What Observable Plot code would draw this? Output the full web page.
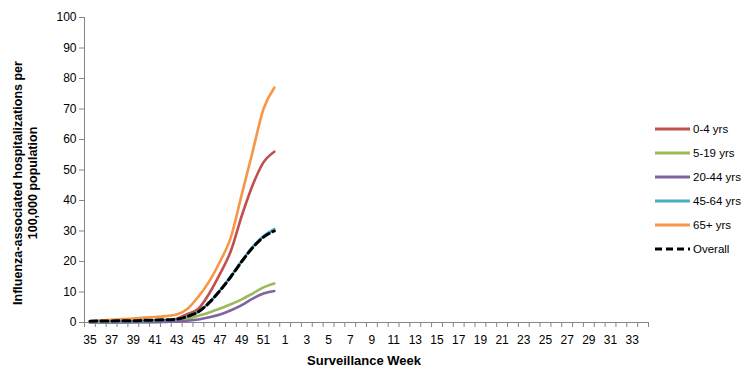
<!DOCTYPE html>
<html>
<head>
<meta charset="utf-8">
<script src="https://cdn.jsdelivr.net/npm/d3@7"></script>
<script src="https://cdn.jsdelivr.net/npm/@observablehq/plot@0.6"></script>
<style>
  html, body { margin: 0; padding: 0; background: #fff; }
  #wrap { position: relative; width: 756px; height: 378px; font-family: "Liberation Sans", Arial, sans-serif; }
  #chart svg { display: block; }
  .ytitle { position: absolute; left: 26px; top: 183px; width: 340px; transform: translate(-50%, -50%) rotate(-90deg);
            text-align: center; font-weight: bold; font-size: 12.5px; line-height: 15px; color: #000; }
  .xtitle { position: absolute; left: 364px; top: 353px; transform: translateX(-50%); font-weight: bold; font-size: 13px; color: #000; white-space: nowrap; }
  .legend { position: absolute; left: 655px; top: 121px; font-size: 11.5px; color: #000; }
  .legend .item { height: 24px; display: flex; align-items: center; position: relative; top: -4px; }
  .legend svg { margin-right: 2px; }
</style>
</head>
<body>
<div id="wrap">
  <div id="chart"></div>
  <div class="ytitle">Influenza-associated hospitalizations per<br>100,000 population</div>
  <div class="xtitle">Surveillance Week</div>
  <div class="legend" id="legend"></div>
</div>
<script>
// Surveillance weeks on the x axis (52 categories)
const weeks = [35,36,37,38,39,40,41,42,43,44,45,46,47,48,49,50,51,52,
               1,2,3,4,5,6,7,8,9,10,11,12,13,14,15,16,17,18,19,20,21,22,23,24,25,26,27,28,29,30,31,32,33,34];
const yTicks = [0,10,20,30,40,50,60,70,80,90,100];

// Rates per 100,000, weeks 35..52
const age0_4   = [0.0,0.1,0.1,0.2,0.2,0.3,0.4,0.6,1.2,2.8,4.5,9.5,16.0,23.5,35.0,45.0,52.5,56.0];
const age5_19  = [0.0,0.0,0.0,0.1,0.1,0.1,0.2,0.3,0.6,1.2,2.2,3.3,4.6,6.0,7.6,9.5,11.5,12.8];
const age20_44 = [0.0,0.0,0.0,0.0,0.1,0.1,0.1,0.2,0.3,0.6,1.0,1.7,2.6,4.0,5.7,7.8,9.5,10.3];
const age45_64 = [0.1,0.2,0.3,0.4,0.5,0.6,0.7,0.8,1.0,2.0,3.5,6.6,10.6,15.2,20.2,24.8,28.3,30.6];
const age65p   = [0.4,0.7,0.9,1.1,1.3,1.6,1.8,2.1,2.6,4.5,8.5,13.5,20.0,28.0,42.0,56.0,70.0,77.0];
const overall  = [0.4,0.5,0.5,0.6,0.6,0.7,0.8,0.9,1.1,2.0,3.5,6.5,10.5,15.0,20.0,24.5,28.0,30.0];

const seriesNames = ["0-4 yrs","5-19 yrs","20-44 yrs","45-64 yrs","65+ yrs","Overall"];
const seriesValues = [age0_4, age5_19, age20_44, age45_64, age65p, overall];
const seriesColors = ["#C0504D","#9BBB59","#8064A2","#4BACC6","#F79646","#000000"];
const seriesDash = [null,null,null,null,null,"7,4"];

const idx = weeks.map((w, i) => i);
const boundaries = d3.range(-0.5, weeks.length, 1);
const labelIdx = idx.filter(i => i % 2 === 0);

const lineMarks = seriesValues.map((vals, s) =>
  Plot.line(vals.map((v, i) => ({i, v})), {
    x: "i", y: "v",
    stroke: seriesColors[s],
    strokeWidth: s === 5 ? 3 : 2.6,
    strokeDasharray: seriesDash[s] || undefined,
    curve: "monotone-x"
  })
);

const chart = Plot.plot({
  width: 756, height: 378,
  marginLeft: 84, marginRight: 108, marginTop: 17, marginBottom: 56,
  style: { fontFamily: "'Liberation Sans', Arial, sans-serif", fontSize: "12px", color: "#000", background: "#fff" },
  x: { type: "linear", domain: [-0.5, weeks.length - 0.5] },
  y: { domain: [0, 100] },
  marks: [
    Plot.ruleX([-0.5], { stroke: "#868686" }),
    Plot.axisY({ ticks: yTicks, tickSize: 5, tickPadding: 3, stroke: "#868686", fill: "#000", label: null, fontSize: 12 }),
    Plot.axisX({ ticks: boundaries, tickSize: 5, tickFormat: () => "", stroke: "#868686", label: null }),
    Plot.axisX({ ticks: labelIdx, tickSize: 0, tickPadding: 13, tickFormat: i => String(weeks[i]), fill: "#000", label: null, fontSize: 12 }),
    Plot.ruleY([0], { stroke: "#868686" }),
    ...lineMarks
  ]
});
document.getElementById("chart").appendChild(chart);

const legend = document.getElementById("legend");
seriesNames.forEach((name, s) => {
  const item = document.createElement("div");
  item.className = "item";
  const dash = seriesDash[s] ? `stroke-dasharray="${seriesDash[s]}"` : "";
  item.innerHTML = `<svg width="36" height="6"><line x1="0" y1="3" x2="35" y2="3" stroke="${seriesColors[s]}" stroke-width="3" ${dash}/></svg><span>${name}</span>`;
  legend.appendChild(item);
});
</script>
</body>
</html>
